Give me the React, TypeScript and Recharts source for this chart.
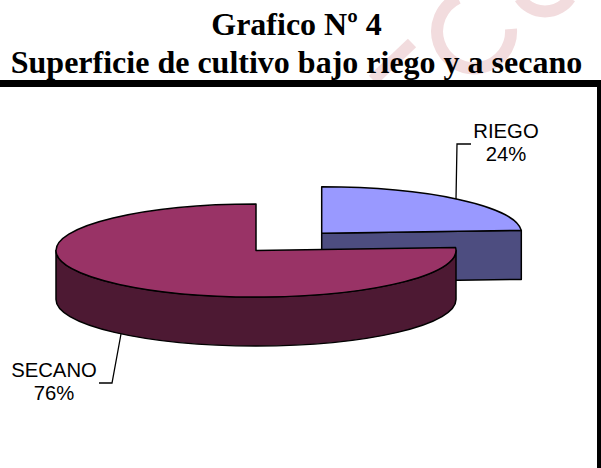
import { PieChart, Pie } from "recharts";

const categories = ["RIEGO", "SECANO"];
const shares = [24, 76];
const topColors = ["#9999ff", "#993366"];
const sideColors = ["#4d4d80", "#4d1933"];
const titleLines = ["Grafico Nº 4", "Superficie de cultivo bajo riego y a secano"];

const tableData = categories.map((name, i) => ({
  name, value: shares[i], fill: topColors[i], side: sideColors[i],
}));

const squash = 46.5 / 200;
const depth = 49;
// the pulled-out slice sits up and to the right of the pie
const explode = [{ dx: 65.7, dy: -17.2 }, { dx: 0, dy: 0 }];

const leaders = [
  { points: "456,199 457,144 471,144", x: 506, y1: 138, y2: 161 },
  { points: "121,334 112,383 99,383", x: 54, y1: 377, y2: 400 },
];

function Slice3D(props: any) {
  const { cx, cy, outerRadius, startAngle, endAngle, fill, index, payload } = props;
  const off = explode[index] || { dx: 0, dy: 0 };
  const rx = outerRadius;
  const ry = outerRadius * squash;
  const x0 = cx + off.dx;
  const y0 = cy + off.dy;
  // t = clockwise degrees from the top of the pie
  const t0 = 90 - startAngle;
  const t1 = 90 - endAngle;
  const pt = (t: number, down = 0) => {
    const r = (t * Math.PI) / 180;
    return [x0 + rx * Math.sin(r), y0 - ry * Math.cos(r) + down];
  };
  const arc = (a: number, b: number, down = 0) => {
    const [x, y] = pt(b, down);
    return `A${rx} ${ry} 0 ${b - a > 180 ? 1 : 0} 1 ${x} ${y}`;
  };
  const stroke = { stroke: "#000", strokeWidth: 1.5, strokeLinejoin: "round" as const };

  const rimA = Math.max(t0, 90);
  const rimB = Math.min(t1, 270);
  let rim = null;
  if (rimB > rimA) {
    const [ax, ay] = pt(rimA);
    const [bx, by] = pt(rimB, depth);
    const d = `M${ax} ${ay}${arc(rimA, rimB)}L${bx} ${by}A${rx} ${ry} 0 ${rimB - rimA > 180 ? 1 : 0} 0 ${pt(rimA, depth).join(" ")}Z`;
    rim = <path d={d} fill={payload.side} {...stroke} />;
  }

  const faceAt = (t: number) => {
    const [px, py] = pt(t);
    const d = `M${x0} ${y0}L${px} ${py}L${px} ${py + depth}L${x0} ${y0 + depth}Z`;
    return <path d={d} fill={payload.side} {...stroke} />;
  };

  const [sx, sy] = pt(t0);
  const top = `M${x0} ${y0}L${sx} ${sy}${arc(t0, t1)}Z`;

  return (
    <g>
      {t1 < 180 ? faceAt(t1) : null}
      {t0 > 180 ? faceAt(t0) : null}
      {rim}
      <path d={top} fill={fill} {...stroke} />
    </g>
  );
}

function renderLabel(props: any) {
  const { index, name, value } = props;
  const l = leaders[index];
  const textStyle = { fontFamily: "'Liberation Sans', Arial, sans-serif", fontSize: 20.3, fill: "#000" };
  return (
    <g>
      <polyline points={l.points} fill="none" stroke="#000" strokeWidth={1.3} />
      <text x={l.x} y={l.y1} textAnchor="middle" {...textStyle}>{name}</text>
      <text x={l.x} y={l.y2} textAnchor="middle" {...textStyle}>{value}%</text>
    </g>
  );
}

export default function App() {
  return (
    <div style={{ position: "absolute", left: 0, top: 0, width: 601, height: 468, overflow: "hidden", background: "#fff" }}>
      {/* scanned-page watermark behind the title */}
      <svg width={601} height={80} style={{ position: "absolute", left: 0, top: 0 }}>
        <g fill="none" stroke="#f2dcde" strokeWidth={12}>
          <path d="M373 80L412 43" />
          <path d="M511 29A37 37 0 1 1 458 -2" />
          <path d="M520 -2A30 30 0 0 0 570 -2" />
        </g>
      </svg>
      <div style={{
        position: "absolute", left: 0, top: 6, width: 593, textAlign: "center",
        fontFamily: "'Liberation Serif', 'Times New Roman', serif", fontWeight: 700,
        fontSize: 32, lineHeight: "37.5px", color: "#000", whiteSpace: "nowrap",
      }}>
        {titleLines.map((t) => <div key={t}>{t}</div>)}
      </div>
      <div style={{ position: "absolute", left: 0, top: 80, width: 601, height: 7, background: "#000" }} />
      <div style={{ position: "absolute", left: 597, top: 80, width: 4, height: 388, background: "#000" }} />
      <div style={{ position: "absolute", left: 0, top: 0 }}>
        <PieChart width={597} height={468} margin={{ top: 0, right: 0, bottom: 0, left: 0 }}>
          <Pie
            data={tableData}
            dataKey="value"
            nameKey="name"
            cx={256}
            cy={250.5}
            outerRadius={200}
            startAngle={90}
            endAngle={-270}
            shape={Slice3D}
            label={renderLabel}
            labelLine={false}
            isAnimationActive={false}
          />
        </PieChart>
      </div>
    </div>
  );
}
